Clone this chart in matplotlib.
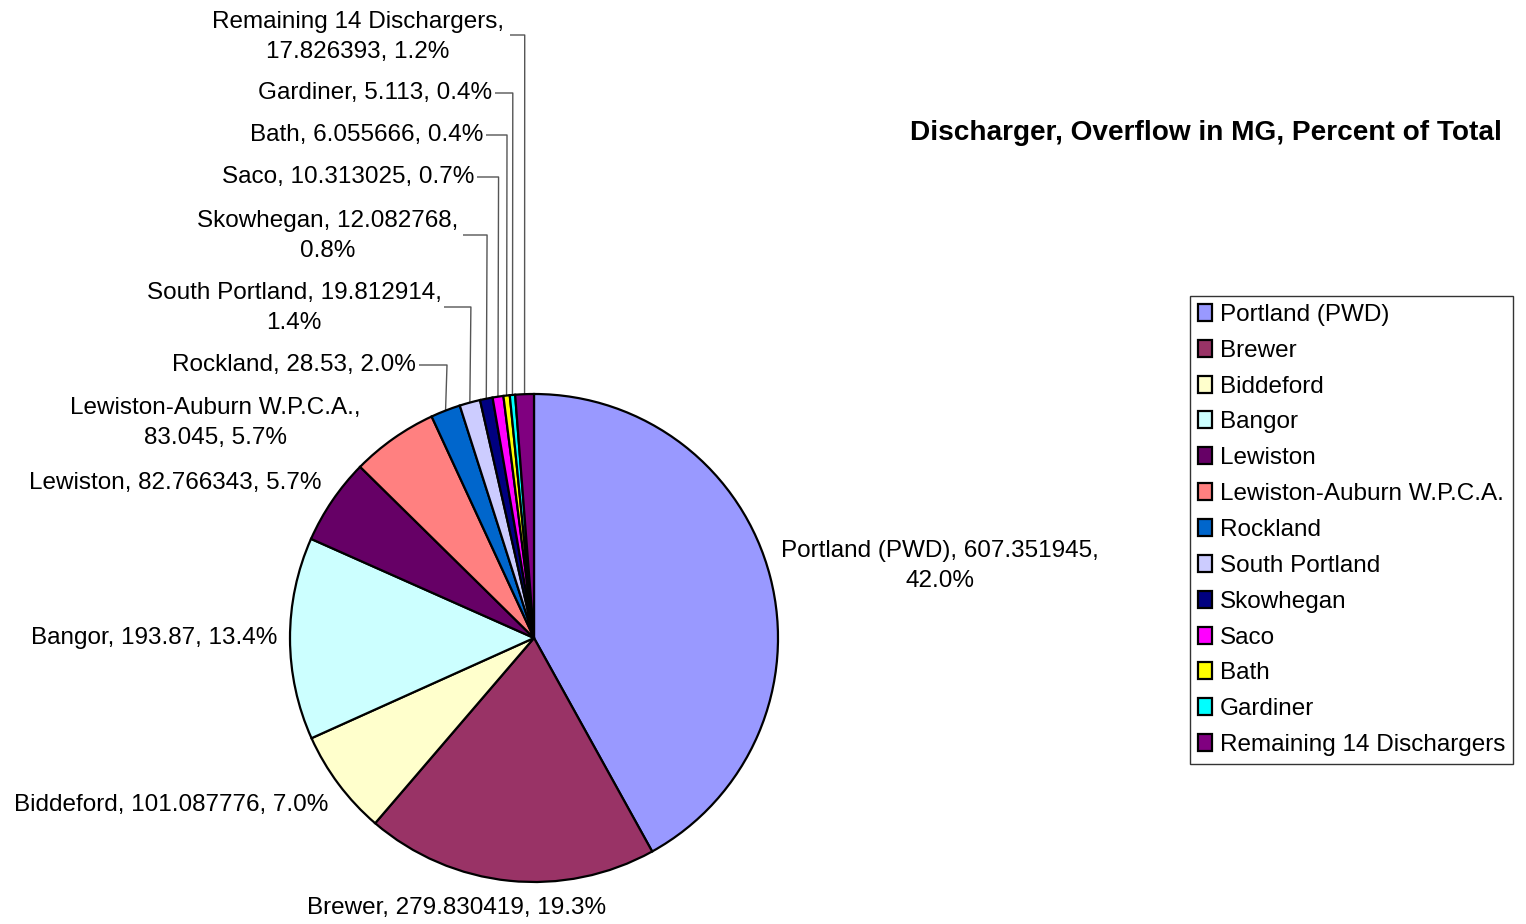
import numpy as np
import matplotlib.pyplot as plt

plt.rcParams['font.family'] = ['Liberation Sans', 'DejaVu Sans']

names = ['Portland (PWD)', 'Brewer', 'Biddeford', 'Bangor', 'Lewiston',
         'Lewiston-Auburn W.P.C.A.', 'Rockland', 'South Portland', 'Skowhegan',
         'Saco', 'Bath', 'Gardiner', 'Remaining 14 Dischargers']
values = [607.351945, 279.830419, 101.087776, 193.87, 82.766343, 83.045,
          28.53, 19.812914, 12.082768, 10.313025, 6.055666, 5.113, 17.826393]
value_text = ['607.351945', '279.830419', '101.087776', '193.87', '82.766343', '83.045',
              '28.53', '19.812914', '12.082768', '10.313025', '6.055666', '5.113', '17.826393']
colors = ['#9999FF', '#993366', '#FFFFCC', '#CCFFFF', '#660066', '#FF8080',
          '#0066CC', '#CCCCFF', '#000080', '#FF00FF', '#FFFF00', '#00FFFF', '#800080']

W, H = 1526, 924
cx, cy, R = 534, 638, 244
fs = 17.5

fig = plt.figure(figsize=(W / 100, H / 100), dpi=100)

# pie axes placed in pixels
ax = fig.add_axes([(cx - R) / W, (H - cy - R) / H, 2 * R / W, 2 * R / H])
wedges, _ = ax.pie(values, colors=colors, startangle=90, counterclock=False,
                   radius=1, wedgeprops=dict(edgecolor='black', linewidth=1.6))
ax.set_xlim(-1, 1)
ax.set_ylim(-1, 1)
ax.set_aspect('equal')
ax.axis('off')

# overlay in pixel coordinates for labels
ov = fig.add_axes([0, 0, 1, 1], zorder=-1)
ov.set_xlim(0, W)
ov.set_ylim(H, 0)
ov.axis('off')

total = sum(values)

# (x, y, ha, where to break the line: None, 'name' or 'last')
label_pos = [
    (940, 566, 'center', 'last'),
    (457, 908, 'center', None),
    (171, 805, 'center', None),
    (154, 638, 'center', None),
    (175, 483, 'center', None),
    (215, 423, 'center', 'name'),
    (416, 365, 'right', None),
    (294, 308, 'center', 'last'),
    (328, 236, 'center', 'last'),
    (474, 177, 'right', None),
    (483, 135, 'right', None),
    (492, 93, 'right', None),
    (358, 37, 'center', 'name'),
]

# leader lines: (label end x, label y) for the small slices
leaders = {6: (419, 365), 7: (444, 307), 8: (463, 235), 9: (477, 177),
           10: (486, 135), 11: (495, 93), 12: (510, 35)}

cum = 0
for i, v in enumerate(values):
    mid = cum + v / 2
    cum += v
    ang = np.deg2rad(90 - 360 * mid / total)
    p = v / total * 100
    x, y, ha, brk = label_pos[i]
    if brk == 'last':
        txt = f'{names[i]}, {value_text[i]},\n{p:.1f}%'
    elif brk == 'name':
        txt = f'{names[i]},\n{value_text[i]}, {p:.1f}%'
    else:
        txt = f'{names[i]}, {value_text[i]}, {p:.1f}%'
    ov.text(x, y, txt, ha=ha, va='center', fontsize=fs, linespacing=1.42,
            multialignment='center')
    if i in leaders:
        lx, ly = leaders[i]
        px = cx + R * np.cos(ang)
        py = cy - R * np.sin(ang)
        ex = px - 4 * np.cos(ang)
        ov.plot([lx, ex, px], [ly, ly, py], color='#555555', lw=1.0,
                solid_capstyle='butt')

fig.text(1206 / W, 1 - 133 / H, 'Discharger, Overflow in MG, Percent of Total',
         ha='center', va='center', fontsize=20.2, fontweight='bold')

leg = fig.legend(wedges, names, loc='upper left',
                 bbox_to_anchor=(1190 / W, 1 - 296 / H), fontsize=fs,
                 frameon=True, fancybox=False, edgecolor='black',
                 handlelength=0.58, handleheight=0.7, handletextpad=0.33,
                 labelspacing=0.57, borderpad=0.32, borderaxespad=0)
leg.get_frame().set_linewidth(1.0)

fig.savefig('out.png', dpi=100)
